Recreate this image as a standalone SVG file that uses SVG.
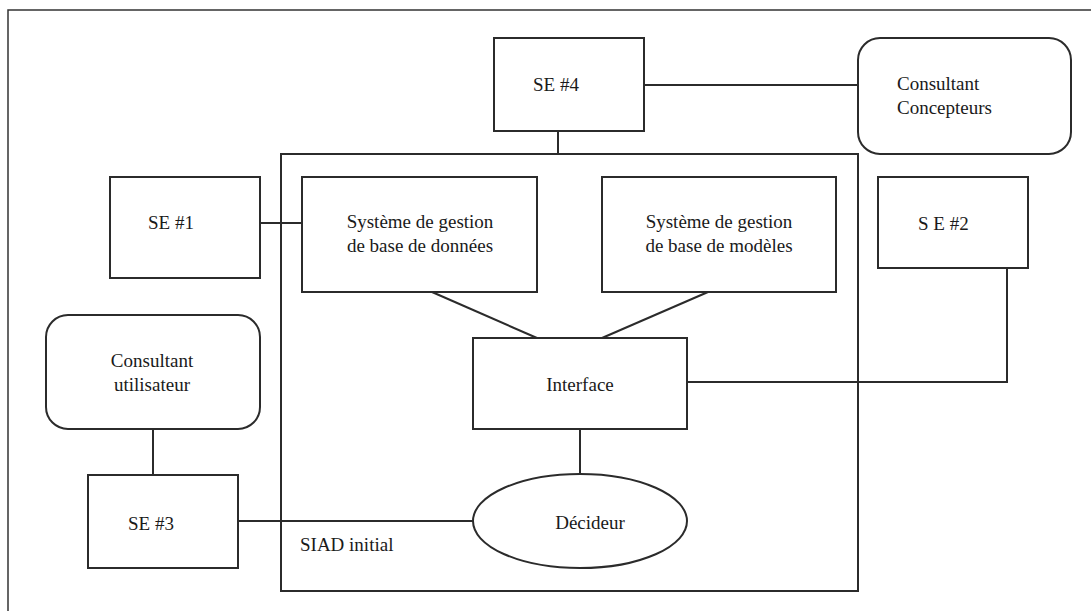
<svg xmlns="http://www.w3.org/2000/svg" width="1091" height="611" viewBox="0 0 1091 611">
  <style>
    .box { fill: #ffffff; stroke: #2b2b2b; stroke-width: 2; }
    .wire { fill: none; stroke: #2b2b2b; stroke-width: 2; }
    .frame { fill: none; stroke: #333333; stroke-width: 1.5; }
    text { font-family: "Liberation Serif", "Times New Roman", serif; font-size: 19px; fill: #1a1a1a; }
    .c { text-anchor: middle; }
  </style>

  <rect x="0" y="0" width="1091" height="611" fill="#ffffff"/>
  <!-- page frame -->
  <path class="frame" d="M8,611 V10 H1091"/>

  <!-- SIAD initial boundary -->
  <g id="siad">
    <rect class="box" x="281" y="154" width="577" height="437" fill="none"/>
    <text x="300" y="551">SIAD initial</text>
  </g>

  <!-- connectors -->
  <g id="connectors">
    <line class="wire" x1="558" y1="131" x2="558" y2="154"/>
    <line class="wire" x1="644" y1="85" x2="858" y2="85"/>
    <line class="wire" x1="260" y1="223" x2="302" y2="223"/>
    <line class="wire" x1="432" y1="292" x2="537" y2="338"/>
    <line class="wire" x1="708" y1="292" x2="602" y2="338"/>
    <path class="wire" d="M1007,268 V382 H687"/>
    <line class="wire" x1="580" y1="429" x2="580" y2="475"/>
    <line class="wire" x1="153" y1="429" x2="153" y2="475"/>
    <line class="wire" x1="238" y1="521" x2="473" y2="521"/>
  </g>

  <g id="se4">
    <rect class="box" x="494" y="38" width="150" height="93"/>
    <text class="c" x="556" y="91">SE #4</text>
  </g>

  <g id="consultant-concepteurs">
    <rect class="box" x="858" y="38" width="213" height="116" rx="22" ry="22"/>
    <text x="897" y="90">Consultant</text>
    <text x="897" y="114">Concepteurs</text>
  </g>

  <g id="se1">
    <rect class="box" x="110" y="177" width="150" height="101"/>
    <text x="148" y="229">SE #1</text>
  </g>

  <g id="sgbd">
    <rect class="box" x="302" y="177" width="235" height="115"/>
    <text class="c" x="420" y="228">Système de gestion</text>
    <text class="c" x="420" y="252">de base de données</text>
  </g>

  <g id="sgbm">
    <rect class="box" x="602" y="177" width="234" height="115"/>
    <text class="c" x="719" y="228">Système de gestion</text>
    <text class="c" x="719" y="252">de base de modèles</text>
  </g>

  <g id="se2">
    <rect class="box" x="878" y="177" width="150" height="91"/>
    <text x="918" y="230">S E #2</text>
  </g>

  <g id="consultant-utilisateur">
    <rect class="box" x="46" y="315" width="214" height="114" rx="22" ry="22"/>
    <text class="c" x="152" y="367">Consultant</text>
    <text class="c" x="152" y="391">utilisateur</text>
  </g>

  <g id="interface">
    <rect class="box" x="473" y="338" width="214" height="91"/>
    <text class="c" x="580" y="391">Interface</text>
  </g>

  <g id="se3">
    <rect class="box" x="88" y="475" width="150" height="93"/>
    <text x="128" y="530">SE #3</text>
  </g>

  <g id="decideur">
    <ellipse class="box" cx="580" cy="521" rx="107" ry="47"/>
    <text class="c" x="590" y="529">Décideur</text>
  </g>
</svg>
